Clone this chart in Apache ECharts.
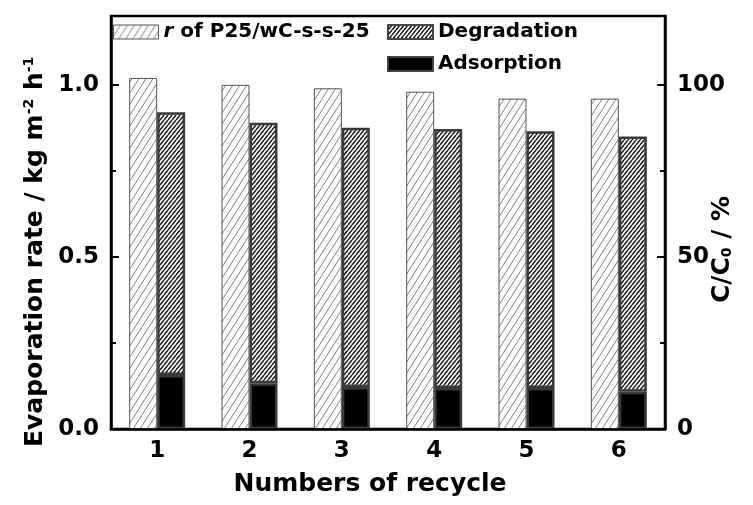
<!DOCTYPE html>
<html>
<head>
<meta charset="utf-8">
<script src="https://cdn.jsdelivr.net/npm/echarts@6/dist/echarts.min.js"></script>
<style>
  html, body { margin: 0; padding: 0; background: #fff; }
  #chart { width: 753px; height: 505px; }
</style>
</head>
<body>
<div id="chart"></div>
<script>
// Recycling test: evaporation rate of the P25/wC-s-s-25 film and C/C0 of the dye
const cycles = ['1', '2', '3', '4', '5', '6'];
const evaporationRate = [1.02, 1.00, 0.99, 0.98, 0.96, 0.96];   // kg m-2 h-1
const degradation = [92, 89, 87.5, 87.2, 86.5, 85];             // C/C0 %, total bar height
const adsorption = [15.7, 13.3, 12.2, 11.9, 11.9, 10.8];        // C/C0 %, lower part
const rateTicks = [0, 0.5, 1.0];
const percentTicks = [0, 50, 100];

const FONT = '"DejaVu Sans", "Liberation Sans", Arial, sans-serif';
const rateName = 'r of P25/wC-s-s-25';

// Diagonal hatch tile, lines running bottom-left to top-right
function hatch(w, h, lineW, color) {
  const c = document.createElement('canvas');
  c.width = w; c.height = h;
  const g = c.getContext('2d');
  g.fillStyle = '#fff';
  g.fillRect(0, 0, w, h);
  g.strokeStyle = color;
  g.lineWidth = lineW;
  g.beginPath();
  for (let k = -1; k <= 1; k++) {
    g.moveTo(k * w, h);
    g.lineTo(k * w + w, 0);
  }
  g.stroke();
  return { image: c, repeat: 'repeat' };
}
const lightHatch = hatch(7, 11, 1, '#808080');
const denseHatch = hatch(4, 5, 1.5, '#1a1a1a');

const labelStyle = { fontFamily: FONT, fontWeight: 'bold', fontSize: 23, color: '#000' };
const lineStyle = { color: '#000', width: 2.5 };

function majorAxis(pos, max, step, fmt) {
  return {
    type: 'value', position: pos, min: 0, max: max, interval: step,
    axisLine: { show: true, lineStyle: lineStyle },
    axisTick: { show: true, inside: true, length: 8, lineStyle: { color: '#000', width: 2 } },
    axisLabel: Object.assign({ showMaxLabel: false, margin: 12, formatter: fmt }, labelStyle),
    splitLine: { show: false }
  };
}
function minorAxis(pos, max, step) {
  return {
    type: 'value', position: pos, min: 0, max: max, interval: step,
    axisLine: { show: false },
    axisTick: { show: true, inside: true, length: 5, lineStyle: { color: '#000', width: 2 } },
    axisLabel: { show: false },
    splitLine: { show: false }
  };
}

const legendBase = {
  orient: 'horizontal', padding: 0, itemWidth: 45, itemHeight: 14, icon: 'rect',
  selectedMode: false,
  textStyle: {
    fontFamily: FONT, fontWeight: 'bold', fontSize: 20, color: '#000',
    rich: { i: { fontFamily: FONT, fontWeight: 'bold', fontStyle: 'italic', fontSize: 20, color: '#000' } }
  },
  formatter: function (name) {
    return name === rateName ? '{i|r} of P25/wC-s-s-25' : name;
  }
};

const chart = echarts.init(document.getElementById('chart'));
chart.setOption({
  animation: false,
  backgroundColor: '#fff',
  grid: { left: 111, right: 88, top: 16, bottom: 76, show: true, borderColor: '#000', borderWidth: 2.5 },
  legend: [
    Object.assign({}, legendBase, { data: [rateName], left: 113, top: 22, itemStyle: { borderColor: '#555', borderWidth: 1 } }),
    Object.assign({}, legendBase, { data: ['Degradation'], left: 387, top: 22, itemStyle: { borderColor: '#444', borderWidth: 2 } }),
    Object.assign({}, legendBase, { data: ['Adsorption'], left: 387, top: 54, itemStyle: { borderColor: '#444', borderWidth: 2 } })
  ],
  xAxis: {
    type: 'category', data: cycles, z: 5,
    axisLine: { show: true, lineStyle: lineStyle },
    axisTick: { show: false },
    axisLabel: Object.assign({ margin: 11 }, labelStyle),
    splitLine: { show: false }
  },
  yAxis: [
    majorAxis('left', 1.2, 0.5, v => (rateTicks.indexOf(v) >= 0 ? v.toFixed(1) : '')),
    majorAxis('right', 120, 50, v => (percentTicks.indexOf(v) >= 0 ? String(v) : '')),
    minorAxis('left', 1.2, 0.25),
    minorAxis('right', 120, 25)
  ],
  series: [
    {
      name: rateName, type: 'bar', yAxisIndex: 0, data: evaporationRate,
      barWidth: 28, barGap: '0%', silent: true,
      itemStyle: { color: lightHatch, borderColor: '#555', borderWidth: 1 }
    },
    {
      name: 'Adsorption', type: 'bar', yAxisIndex: 1, stack: 'cc0', data: adsorption,
      barWidth: 28, barGap: '0%', silent: true,
      itemStyle: { color: '#000', borderColor: '#3a3a3a', borderWidth: 2.5 }
    },
    {
      name: 'Degradation', type: 'bar', yAxisIndex: 1, stack: 'cc0',
      data: degradation.map((v, i) => +(v - adsorption[i]).toFixed(2)),
      barWidth: 28, barGap: '0%', silent: true,
      itemStyle: { color: denseHatch, borderColor: '#3a3a3a', borderWidth: 2.5 }
    }
  ],
  graphic: [
    {
      type: 'text', x: 370, y: 484, silent: true,
      style: { text: 'Numbers of recycle', font: 'bold 25px ' + FONT, fill: '#000',
               align: 'center', verticalAlign: 'middle', textAlign: 'center', textVerticalAlign: 'middle' }
    },
    {
      type: 'text', x: 35, y: 447, rotation: Math.PI / 2, silent: true,
      style: {
        text: '{m|Evaporation rate / kg m}{s|-2}{m| h}{s|-1}',
        rich: {
          m: { fontFamily: FONT, fontWeight: 'bold', fontSize: 25, fill: '#000', color: '#000' },
          s: { fontFamily: FONT, fontWeight: 'bold', fontSize: 14, fill: '#000', color: '#000', verticalAlign: 'top' }
        },
        align: 'left', verticalAlign: 'middle', textAlign: 'left', textVerticalAlign: 'middle'
      }
    },
    {
      type: 'text', x: 722, y: 303, rotation: Math.PI / 2, silent: true,
      style: {
        text: '{m|C/C}{s|0}{m| / %}',
        rich: {
          m: { fontFamily: FONT, fontWeight: 'bold', fontSize: 25, fill: '#000', color: '#000' },
          s: { fontFamily: FONT, fontWeight: 'bold', fontSize: 14, fill: '#000', color: '#000', verticalAlign: 'bottom' }
        },
        align: 'left', verticalAlign: 'middle', textAlign: 'left', textVerticalAlign: 'middle'
      }
    }
  ]
});
</script>
</body>
</html>
